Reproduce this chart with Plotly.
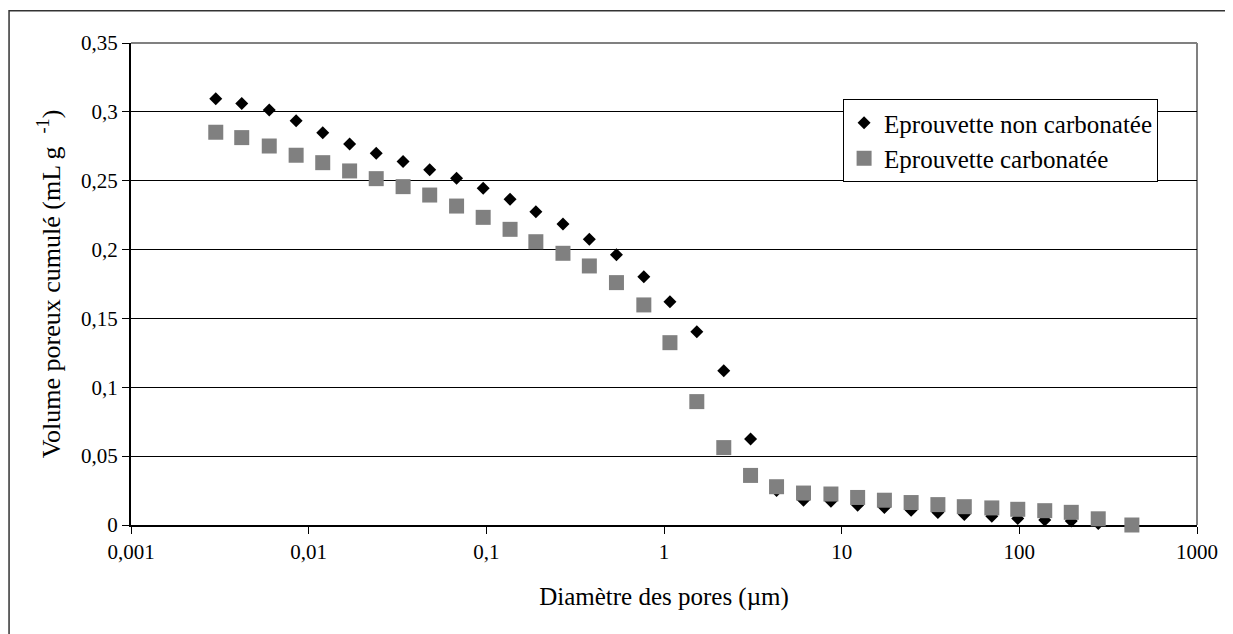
import plotly.graph_objects as go

# pore diameter (µm), log scale
diametre = [0.003, 0.0042, 0.006, 0.0085, 0.012, 0.017, 0.024, 0.034, 0.048, 0.068,
            0.096, 0.136, 0.19, 0.27, 0.38, 0.54, 0.77, 1.08, 1.53, 2.17,
            3.07, 4.3, 6.1, 8.7, 12.3, 17.4, 24.6, 34.8, 49, 70,
            98, 139, 196, 278, 430]

non_carbonatee = [0.3096, 0.306, 0.3014, 0.2936, 0.2849, 0.2767, 0.2699, 0.264, 0.258, 0.2518,
                  0.2445, 0.2365, 0.2275, 0.2186, 0.2075, 0.1963, 0.1803, 0.1622, 0.1404, 0.112,
                  0.0625, 0.025, 0.018, 0.0173, 0.0144, 0.0127, 0.0108, 0.0091, 0.0076, 0.0064,
                  0.0047, 0.0036, 0.0029, 0.001, 0.0]

carbonatee = [0.2852, 0.2813, 0.2752, 0.2685, 0.2631, 0.2571, 0.2515, 0.2457, 0.2396, 0.2316,
              0.2234, 0.2147, 0.2057, 0.1973, 0.1881, 0.176, 0.1598, 0.1324, 0.0896, 0.0562,
              0.036, 0.0278, 0.0232, 0.0225, 0.020, 0.018, 0.0163, 0.0148, 0.0133, 0.0124,
              0.0114, 0.0104, 0.0092, 0.0045, 0.0]

x_ticks = [0.001, 0.01, 0.1, 1, 10, 100, 1000]
x_labels = ["0,001", "0,01", "0,1", "1", "10", "100", "1000"]
y_ticks = [0, 0.05, 0.1, 0.15, 0.2, 0.25, 0.3, 0.35]
y_labels = ["0", "0,05", "0,1", "0,15", "0,2", "0,25", "0,3", "0,35"]

FONT = "Liberation Serif, Times New Roman, serif"

fig = go.Figure()
fig.add_trace(go.Scatter(
    x=diametre, y=non_carbonatee,
    mode='markers',
    name='Eprouvette non carbonatée',
    marker=dict(symbol='diamond', size=10, color='black', line=dict(width=0)),
    cliponaxis=False,
))
fig.add_trace(go.Scatter(
    x=diametre, y=carbonatee,
    mode='markers',
    name='Eprouvette carbonatée',
    marker=dict(symbol='square', size=15, color='#808080', line=dict(width=0)),
    cliponaxis=False,
))

# page body has an 8px margin, so the figure is shrunk/shifted by 8px
fig.update_layout(
    width=1225, height=626,
    margin=dict(l=123, r=36, t=35, b=109),
    paper_bgcolor='white', plot_bgcolor='white',
    font=dict(family=FONT, size=21, color='black'),
    showlegend=True,
    legend=dict(
        x=0.668, y=0.7116, xanchor='left', yanchor='bottom',
        bgcolor='white', bordercolor='black', borderwidth=1,
        font=dict(family=FONT, size=25, color='black'),
        itemwidth=30,
    ),
)

fig.update_xaxes(
    type='log', range=[-3, 3],
    tickvals=x_ticks, ticktext=x_labels,
    ticks='outside', ticklen=7, tickcolor='black', tickwidth=1,
    showline=True, linecolor='black', linewidth=2,
    showgrid=False, zeroline=False,
    layer='below traces',
    title=dict(text='Diamètre des pores (µm)', font=dict(family=FONT, size=25), standoff=24),
    automargin=False,
)
fig.update_yaxes(
    range=[0, 0.35],
    tickvals=y_ticks, ticktext=y_labels,
    ticks='outside', ticklen=7, tickcolor='black', tickwidth=1,
    showline=True, linecolor='black', linewidth=2,
    showgrid=True, gridcolor='black', gridwidth=1,
    zeroline=False,
    layer='below traces',
    title=dict(text='Volume poreux cumulé (mL g  <sup>-1</sup>)', font=dict(family=FONT, size=26), standoff=13),
    automargin=False,
)

# grey top/right border of the plot area
fig.add_shape(type='line', xref='paper', yref='paper', x0=0, x1=1, y0=1, y1=1,
              line=dict(color='#808080', width=2), layer='below')
fig.add_shape(type='line', xref='paper', yref='paper', x0=1, x1=1, y0=0, y1=1,
              line=dict(color='#808080', width=2), layer='below')
# outer chart frame
fig.add_shape(type='rect', xref='paper', yref='paper', x0=-0.1144, x1=1.0319, y0=-0.3, y1=1.067,
              line=dict(color='#333333', width=1.5), fillcolor='rgba(0,0,0,0)', layer='below')

fig.write_html("out.html")
